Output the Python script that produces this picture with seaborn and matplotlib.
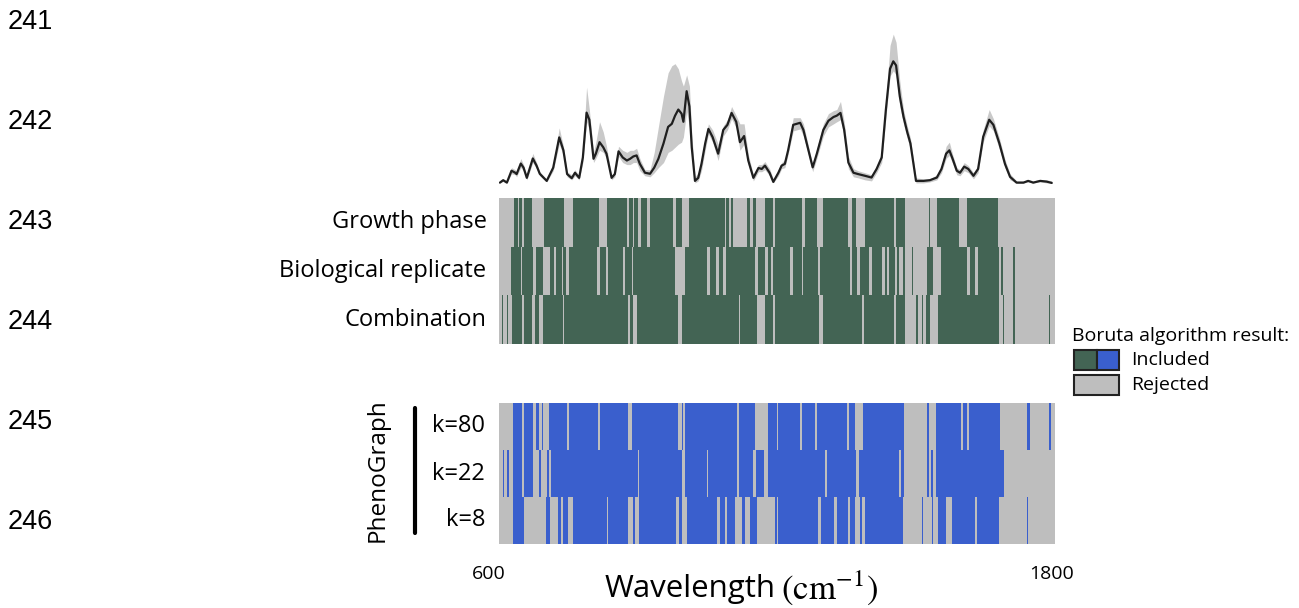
import numpy as np
import pandas as pd
import matplotlib
matplotlib.use("Agg")
import matplotlib.pyplot as plt
from matplotlib.colors import ListedColormap
from matplotlib.patches import Rectangle
from matplotlib.lines import Line2D
import seaborn as sns

sns.set_style("white")
plt.rcParams["font.family"] = ["Open Sans", "DejaVu Sans"]
plt.rcParams["mathtext.fontset"] = "stix"
plt.rcParams["text.color"] = "black"
plt.rcParams["ytick.color"] = "black"
plt.rcParams["ytick.labelcolor"] = "black"

# ---------------- data ----------------
wavenumber = [602, 609, 617, 627, 635, 638, 647, 653, 660, 673, 681, 688, 703, 717, 730, 739, 747, 757,
              764, 773, 781, 789, 795, 804, 809, 817, 825, 832, 843, 850, 858, 867, 876, 883, 890, 897,
              904, 915, 926, 935, 944, 955, 965, 973, 980, 987, 994, 998, 1005, 1011, 1016, 1023, 1030,
              1037, 1045, 1052, 1061, 1073, 1084, 1093, 1102, 1112, 1120, 1129, 1138, 1149, 1160, 1167,
              1174, 1184, 1192, 1203, 1210, 1217, 1224, 1235, 1250, 1257, 1268, 1277, 1286, 1300, 1311,
              1322, 1329, 1337, 1345, 1354, 1365, 1375, 1390, 1404, 1415, 1426, 1435, 1444, 1451, 1457,
              1465, 1473, 1481, 1488, 1500, 1516, 1530, 1545, 1555, 1565, 1572, 1579, 1588, 1595, 1604,
              1613, 1624, 1634, 1645, 1658, 1667, 1680, 1692, 1703, 1717, 1732, 1742, 1753, 1768, 1782,
              1793]
spectrum_mean = [0.3, 2.7, 0.3, 12, 10, 8.7, 19, 15, 5, 24, 17, 9, 2, 15, 44.7, 32, 8.7, 4.7,
                 10, 5, 25, 69, 62, 23.7, 28.7, 40, 35, 28.7, 5, 8.7, 31, 25, 22, 23.7, 26, 27,
                 18.7, 10, 9, 15, 23.7, 38.7, 55, 58, 66, 72, 68, 60, 90, 75, 35, 2, 5,
                 18.7, 38.7, 53, 45, 28.7, 52, 57, 68.7, 60, 40, 46, 22, 5, 14.7, 13.7,
                 17, 10, 1, 10, 17, 18.7, 32, 57, 59, 52, 32, 15.3, 28.7, 52, 61,
                 64.7, 66, 68.7, 52, 20, 10, 8.7, 7, 5.3, 13.7, 25, 72, 112, 119.3, 115.3,
                 85, 65, 50, 38.7, 2, 2, 2.7, 5.3, 13.7, 28.7, 32, 23.7, 12, 10, 16,
                 13.7, 7, 13.7, 45.3, 62, 57, 38.7, 18.7, 6, 0.3, 0.3, 2, 0.3, 2, 1.3,
                 0]
spectrum_low = [0, 1.5, 0, 9, 8, 6, 15, 12, 3, 20, 14, 7, 1, 12, 38, 27, 6, 3,
                7, 3, 20, 60, 52, 20, 24, 32, 30, 24, 3, 6, 26, 20, 18, 18, 20, 20,
                12, 7, 6, 10, 15, 20, 30, 32, 35, 38, 40, 45, 70, 55, 28, 0, 2,
                12, 32, 48, 40, 22, 46, 52, 63, 54, 32, 38, 18, 2, 11, 11,
                13, 7, 0, 7, 14, 15, 28, 51, 53, 46, 27, 11, 24, 46, 55,
                58, 60, 62, 46, 14, 6, 5, 3, 2, 10, 20, 64, 105, 110, 106,
                75, 58, 44, 33, 0, 0, 1, 3, 10, 24, 27, 19, 8, 7, 12,
                10, 4, 10, 40, 56, 51, 33, 15, 3, 0, 0, 1, 0, 1, 0,
                0]
spectrum_high = [1.5, 4, 2, 15, 13, 11, 24, 18, 7, 29, 20, 11, 3.5, 18, 54, 36, 11, 8,
                 13, 7, 30, 94, 72, 30, 40, 60, 50, 36, 7, 12, 36, 32, 30, 32, 32, 34,
                 24, 13, 13, 30, 55, 85, 108, 115, 117, 112, 100, 95, 106, 95, 48, 6, 10,
                 25, 45, 58, 52, 38, 56, 62, 75, 66, 58, 58, 28, 8, 18, 18,
                 21, 14, 4, 13, 20, 23, 37, 64, 64, 58, 36, 18, 34, 58, 68,
                 71, 72, 80, 60, 26, 14, 12, 10, 8, 17, 30, 82, 135, 146, 138,
                 100, 72, 56, 44, 5, 4, 4, 8, 17, 36, 40, 28, 15, 13, 20,
                 17, 10, 17, 52, 72, 63, 44, 23, 9, 2, 2, 3.5, 2, 3.5, 3,
                 2]

# Boruta "included" wavenumber ranges (cm-1)
growth_phase = [[632, 640], [644, 650], [654, 672], [698, 740], [759, 815], [834, 877], [881, 889],
                [892, 901], [906, 919], [925, 976], [983, 996], [1009, 1088], [1091, 1096], [1100, 1104],
                [1135, 1141], [1149, 1155], [1174, 1191], [1196, 1253], [1260, 1286], [1300, 1354],
                [1361, 1370], [1390, 1452], [1457, 1476], [1527, 1530], [1545, 1593], [1609, 1676]]
biological_replicate = [[625, 647], [650, 673], [680, 694], [709, 719], [723, 735], [739, 745], [750, 812],
                        [818, 831], [836, 867], [872, 886], [890, 980], [1001, 1048], [1055, 1068],
                        [1074, 1083], [1089, 1153], [1160, 1174], [1180, 1188], [1192, 1228], [1234, 1253],
                        [1257, 1289], [1293, 1357], [1361, 1373], [1379, 1399], [1404, 1426], [1433, 1438],
                        [1442, 1455], [1458, 1464], [1473, 1476], [1491, 1494], [1523, 1537], [1555, 1611],
                        [1616, 1627], [1634, 1680], [1683, 1688], [1709, 1714]]
combination = [[606, 609], [617, 620], [627, 649], [653, 671], [678, 687], [696, 738], [740, 879],
               [883, 889], [897, 987], [996, 1117], [1120, 1156], [1174, 1192], [1196, 1291], [1300, 1383],
               [1388, 1452], [1457, 1476], [1499, 1505], [1512, 1516], [1521, 1530], [1548, 1680],
               [1688, 1691], [1710, 1714], [1786, 1789]]
k80 = [[630, 649], [654, 673], [680, 687], [692, 696], [707, 746], [750, 813], [818, 878], [886, 987],
       [994, 998], [1001, 1113], [1119, 1153], [1180, 1199], [1203, 1250], [1253, 1282], [1286, 1352],
       [1356, 1368], [1386, 1475], [1523, 1527], [1543, 1598], [1602, 1609], [1614, 1681], [1739, 1745],
       [1788, 1791]]
k22 = [[608, 611], [618, 622], [630, 649], [653, 673], [687, 690], [703, 707], [712, 901], [903, 994],
       [1001, 1048], [1052, 1113], [1119, 1149], [1155, 1172], [1180, 1304], [1307, 1370], [1378, 1464],
       [1467, 1474], [1523, 1527], [1532, 1536], [1543, 1691]]
k8 = [[630, 653], [702, 710], [728, 733], [738, 748], [759, 833], [836, 878], [889, 894], [903, 982],
      [989, 996], [1005, 1071], [1076, 1088], [1093, 1109], [1124, 1131], [1141, 1156], [1196, 1199],
      [1202, 1288], [1296, 1324], [1329, 1354], [1357, 1368], [1380, 1383], [1390, 1473], [1512, 1516],
      [1535, 1537], [1547, 1565], [1577, 1627], [1631, 1680], [1687, 1688], [1739, 1742]]

top_labels = ["Growth phase", "Biological replicate", "Combination"]
bottom_labels = ["k=80", "k=22", "k=8"]
line_numbers = ["241", "242", "243", "244", "245", "246"]
x_tick_labels = ["600", "1800"]
wl_min, wl_max = 600, 1800

# ---------------- helpers ----------------
W, H = 1299, 608
GREEN = "#436454"
BLUE = "#3A5FCD"
GREY = "#BEBEBE"

cols = np.arange(wl_min, wl_max) + 0.5


def to_row(intervals):
    row = np.zeros(len(cols))
    for a, b in intervals:
        row[(cols >= a) & (cols <= b)] = 1
    return row


def px_axes(x0, y0, x1, y1):
    return fig.add_axes([x0 / W, 1 - y1 / H, (x1 - x0) / W, (y1 - y0) / H])


fig = plt.figure(figsize=(W / 100, H / 100), dpi=100)

# spectrum
ax_s = px_axes(499, 28, 1055, 186)
spec = pd.DataFrame({"wl": wavenumber, "mean": spectrum_mean, "lo": spectrum_low, "hi": spectrum_high})
ax_s.fill_between(spec["wl"], spec["lo"], spec["hi"], color="#C9C9C9", lw=0)
sns.lineplot(data=spec, x="wl", y="mean", ax=ax_s, color="#1f1f1f", lw=1.6)
ax_s.set_xlim(wl_min, wl_max)
ax_s.set_ylim(-3, 152)
ax_s.axis("off")

# top heatmap
top_df = pd.DataFrame([to_row(growth_phase), to_row(biological_replicate), to_row(combination)],
                      index=top_labels, columns=cols)
ax_t = px_axes(499, 198, 1055, 344)
sns.heatmap(top_df, ax=ax_t, cmap=ListedColormap([GREY, GREEN]), vmin=0, vmax=1, cbar=False,
            xticklabels=False, yticklabels=True)
ax_t.set_ylabel("")
ax_t.tick_params(axis="y", length=0, pad=9, labelsize=17, labelcolor="black")
for t in ax_t.get_yticklabels():
    t.set_rotation(0)

# bottom heatmap
bot_df = pd.DataFrame([to_row(k80), to_row(k22), to_row(k8)], index=bottom_labels, columns=cols)
ax_b = px_axes(499, 403, 1055, 544)
sns.heatmap(bot_df, ax=ax_b, cmap=ListedColormap([GREY, BLUE]), vmin=0, vmax=1, cbar=False,
            xticklabels=False, yticklabels=True)
ax_b.set_ylabel("")
ax_b.tick_params(axis="y", length=0, pad=10, labelsize=17, labelcolor="black")
for t in ax_b.get_yticklabels():
    t.set_rotation(0)

# PhenoGraph bracket
fig.add_artist(Line2D([415 / W, 415 / W], [1 - 408 / H, 1 - 533 / H], color="black", lw=3,
                      transform=fig.transFigure))
fig.text(378 / W, 1 - 470 / H, "PhenoGraph", rotation=90, ha="center", va="center", fontsize=17.5)

# x labels
fig.text(489 / W, 1 - 574 / H, x_tick_labels[0], ha="center", va="center", fontsize=14)
fig.text(1052 / W, 1 - 574 / H, x_tick_labels[1], ha="center", va="center", fontsize=14)
fig.text(776 / W, 1 - 589 / H, "Wavelength", ha="right", va="center", fontsize=22.5)
fig.text(781 / W, 1 - 588 / H, r"$(\mathrm{cm}^{-1})$", ha="left", va="center", fontsize=25)

# legend
fig.text(1072 / W, 1 - 336 / H, "Boruta algorithm result:", ha="left", va="center", fontsize=14)
for (x0, x1, y0, y1, c) in [(1074, 1097, 350, 370, GREEN), (1097, 1119, 350, 370, BLUE),
                            (1074, 1119, 375, 395, GREY)]:
    fig.add_artist(Rectangle((x0 / W, 1 - y1 / H), (x1 - x0) / W, (y1 - y0) / H, facecolor=c,
                             edgecolor="#222222", lw=1.5, transform=fig.transFigure))
fig.text(1131 / W, 1 - 360 / H, "Included", ha="left", va="center", fontsize=14)
fig.text(1131 / W, 1 - 385 / H, "Rejected", ha="left", va="center", fontsize=14)

# line numbers
for i, s in enumerate(line_numbers):
    fig.text(8 / W, 1 - (22 + 100 * i) / H, s, ha="left", va="center", fontsize=19.5,
             family=["Liberation Sans", "DejaVu Sans"])

fig.savefig("out.png", dpi=100)
